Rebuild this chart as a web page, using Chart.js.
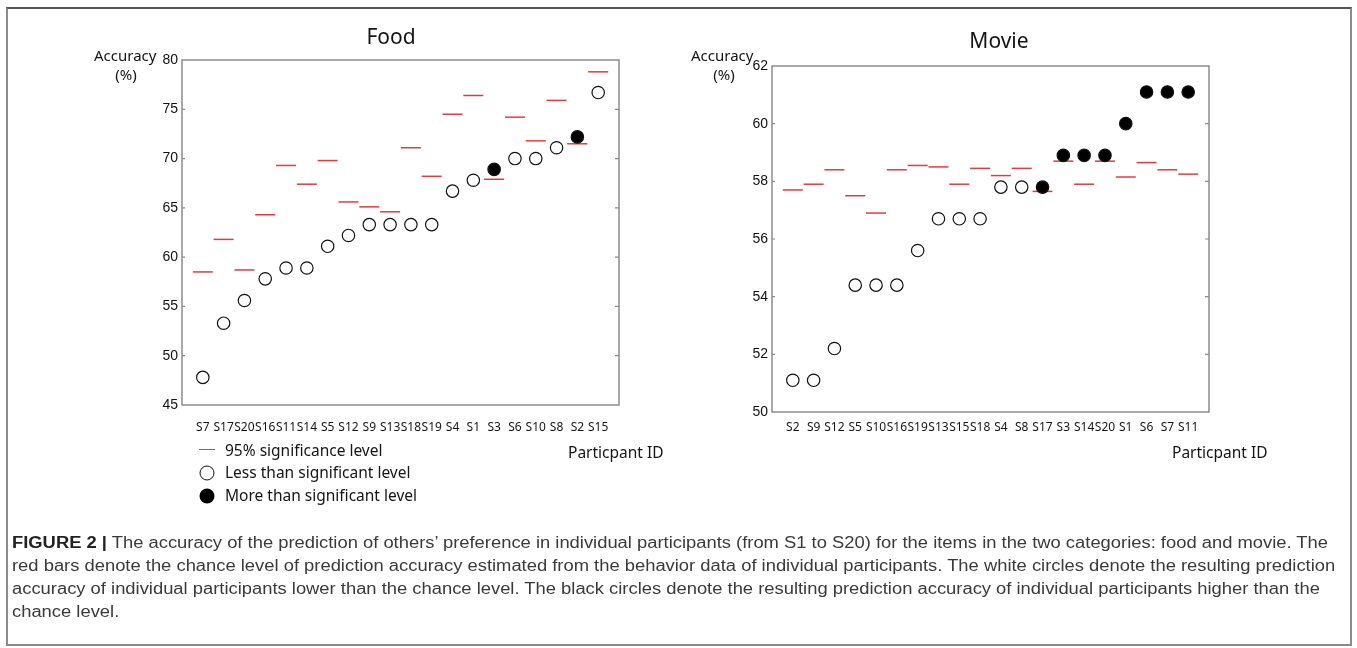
<!DOCTYPE html>
<html>
<head>
<meta charset="utf-8">
<script src="https://cdn.jsdelivr.net/npm/chart.js@4.4.0/dist/chart.umd.min.js"></script>
<style>
html,body{margin:0;padding:0;background:#fff;}
body{width:1357px;height:648px;position:relative;overflow:hidden;font-family:"Noto Sans",sans-serif;}
#frame{position:absolute;left:6px;top:7px;width:1346px;height:639px;border:2px solid #8c8c8c;border-top-color:#555;box-sizing:border-box;}
canvas{position:absolute;}
.t{position:absolute;white-space:nowrap;color:#151515;line-height:1;transform:translateY(-50%);}
.c{transform:translate(-50%,-50%);}
.ttl{font-size:21px;}
.acc{font-size:15px;}
.leg{font-size:15.5px;}
.dash{position:absolute;width:16px;height:0;border-top:1.6px solid #e8383d;}
.circ{position:absolute;width:15px;height:15px;border-radius:50%;box-sizing:border-box;transform:translate(-50%,-50%);}
#cap{position:absolute;left:12px;top:0;transform-origin:0 0;}
.cl{position:absolute;left:0;white-space:nowrap;font-family:"Liberation Sans",Arial,sans-serif;font-size:16px;color:#3a3a3a;line-height:1;transform:translateY(-50%);}
</style>
</head>
<body>
<div id="frame"></div>
<canvas id="food" width="680" height="445" style="left:0;top:0;width:680px;height:445px"></canvas>
<canvas id="movie" width="677" height="445" style="left:680px;top:0;width:677px;height:445px"></canvas>

<div class="t c ttl" style="left:391px;top:36px">Food</div>
<div class="t c ttl" style="left:999px;top:40px">Movie</div>
<div class="t acc" style="left:94px;top:55px">Accuracy</div>
<div class="t c acc" style="left:126px;top:74px">(%)</div>
<div class="t acc" style="left:691px;top:55px">Accuracy</div>
<div class="t c acc" style="left:724px;top:74px">(%)</div>

<div class="dash" style="left:199px;top:449px"></div>
<div class="t leg" style="left:225px;top:451px">95% significance level</div>
<div class="circ" style="left:207px;top:473px;border:1.3px solid #111;background:#fff"></div>
<div class="t leg" style="left:225px;top:473px">Less than significant level</div>
<div class="circ" style="left:207px;top:496px;background:#000"></div>
<div class="t leg" style="left:225px;top:496px">More than significant level</div>
<div class="t leg" style="left:568px;top:453px">Particpant ID</div>
<div class="t leg" style="left:1172px;top:453px">Particpant ID</div>

<div id="cap">
<div class="cl" id="cl1" style="top:543px"><b style="color:#222">FIGURE 2 |</b> The accuracy of the prediction of others’ preference in individual participants (from S1 to S20) for the items in the two categories: food and movie. The</div>
<div class="cl" style="top:566px">red bars denote the chance level of prediction accuracy estimated from the behavior data of individual participants. The white circles denote the resulting prediction</div>
<div class="cl" style="top:589px">accuracy of individual participants lower than the chance level. The black circles denote the resulting prediction accuracy of individual participants higher than the</div>
<div class="cl" style="top:612px">chance level.</div>
</div>

<script>
// ---- Food data ----
const foodIds = ["S7","S17","S20","S16","S11","S14","S5","S12","S9","S13","S18","S19","S4","S1","S3","S6","S10","S8","S2","S15"];
const foodAccuracy = [47.8,53.3,55.6,57.8,58.9,58.9,61.1,62.2,63.3,63.3,63.3,63.3,66.7,67.8,68.9,70.0,70.0,71.1,72.2,76.7];
const foodSignificance = [58.5,61.8,58.7,64.3,69.3,67.4,69.8,65.6,65.1,64.6,71.1,68.2,74.5,76.4,67.9,74.2,71.8,75.9,71.5,78.8];
const foodTicks = [45,50,55,60,65,70,75,80];

// ---- Movie data ----
const movieIds = ["S2","S9","S12","S5","S10","S16","S19","S13","S15","S18","S4","S8","S17","S3","S14","S20","S1","S6","S7","S11"];
const movieAccuracy = [51.1,51.1,52.2,54.4,54.4,54.4,55.6,56.7,56.7,56.7,57.8,57.8,57.8,58.9,58.9,58.9,60.0,61.1,61.1,61.1];
const movieSignificance = [57.7,57.9,58.4,57.5,56.9,58.4,58.55,58.5,57.9,58.45,58.2,58.45,57.65,58.7,57.9,58.7,58.15,58.65,58.4,58.25];
const movieTicks = [50,52,54,56,58,60,62];

const AXIS_GRAY = '#8c8c8c';
const RED = '#e8383d';

const framePlugin = {
  id: 'frameTicks',
  beforeDatasetsDraw(chart) {
    const {ctx, chartArea: a, scales} = chart;
    ctx.save();
    ctx.strokeStyle = AXIS_GRAY;
    ctx.lineWidth = 1.5;
    ctx.strokeRect(a.left, a.top, a.right - a.left, a.bottom - a.top);
    ctx.lineWidth = 1.2;
    scales.y.ticks.forEach(t => {
      const y = scales.y.getPixelForValue(t.value);
      if (Math.abs(y - a.top) < 2 || Math.abs(y - a.bottom) < 2) return;
      ctx.beginPath();
      ctx.moveTo(a.left, y); ctx.lineTo(a.left + 3, y);
      ctx.moveTo(a.right, y); ctx.lineTo(a.right - 4, y);
      ctx.stroke();
    });
    ctx.restore();
  }
};

function makeChart(id, ids, acc, sig, ticks, geom) {
  const ymin = ticks[0], ymax = ticks[ticks.length - 1];
  const step = ticks[1] - ticks[0];
  const halfStep = (c) => {
    const s = c.chart.scales.x;
    return Math.abs(s.getPixelForValue(1) - s.getPixelForValue(0)) / 2 - 0.4;
  };
  return new Chart(document.getElementById(id), {
    type: 'scatter',
    data: {
      datasets: [
        {
          label: 'accuracy',
          data: acc.map((v, i) => ({x: i, y: v})),
          pointStyle: 'circle',
          pointRadius: 6.2,
          pointBorderWidth: 1.2,
          pointBorderColor: '#111',
          pointBackgroundColor: acc.map((v, i) => v > sig[i] ? '#000' : '#fff'),
          showLine: false
        },
        {
          label: 'significance',
          data: sig.map((v, i) => ({x: i, y: v})),
          pointStyle: 'line',
          pointRadius: halfStep,
          pointBorderColor: RED,
          pointBorderWidth: 1.5,
          showLine: false
        }
      ]
    },
    options: {
      responsive: false,
      animation: false,
      devicePixelRatio: 1,
      events: [],
      layout: {padding: {left: 0, top: geom.top, right: geom.right, bottom: 0}},
      plugins: {legend: {display: false}, tooltip: {enabled: false}, title: {display: false}},
      scales: {
        x: {
          type: 'linear', min: -1, max: ids.length,
          grid: {display: false, drawTicks: false},
          border: {display: false},
          afterFit: (s) => { s.height = geom.xh; },
          ticks: {
            stepSize: 1, autoSkip: false, maxRotation: 0, minRotation: 0,
            padding: geom.xpad,
            color: '#151515',
            font: {family: 'Noto Sans', size: 12},
            callback: (v) => (Number.isInteger(v) && ids[v]) ? ids[v] : ''
          }
        },
        y: {
          min: ymin, max: ymax,
          grid: {display: false, drawTicks: false},
          border: {display: false},
          afterFit: (s) => { s.width = geom.left; },
          ticks: {
            stepSize: step, padding: 4, color: '#111',
            font: {family: 'Liberation Sans', size: 14}
          }
        }
      }
    },
    plugins: [framePlugin]
  });
}

makeChart('food', foodIds, foodAccuracy, foodSignificance, foodTicks,
  {left: 182, top: 60, right: 61, xh: 40, xpad: 15});
makeChart('movie', movieIds, movieAccuracy, movieSignificance, movieTicks,
  {left: 92, top: 66, right: 148, xh: 33, xpad: 8});

// fit caption line width
(function(){
  const l1 = document.getElementById('cl1');
  const w = l1.getBoundingClientRect().width;
  const s = 1316 / w;
  document.getElementById('cap').style.transform = 'scaleX(' + s + ')';
})();
</script>
</body>
</html>
